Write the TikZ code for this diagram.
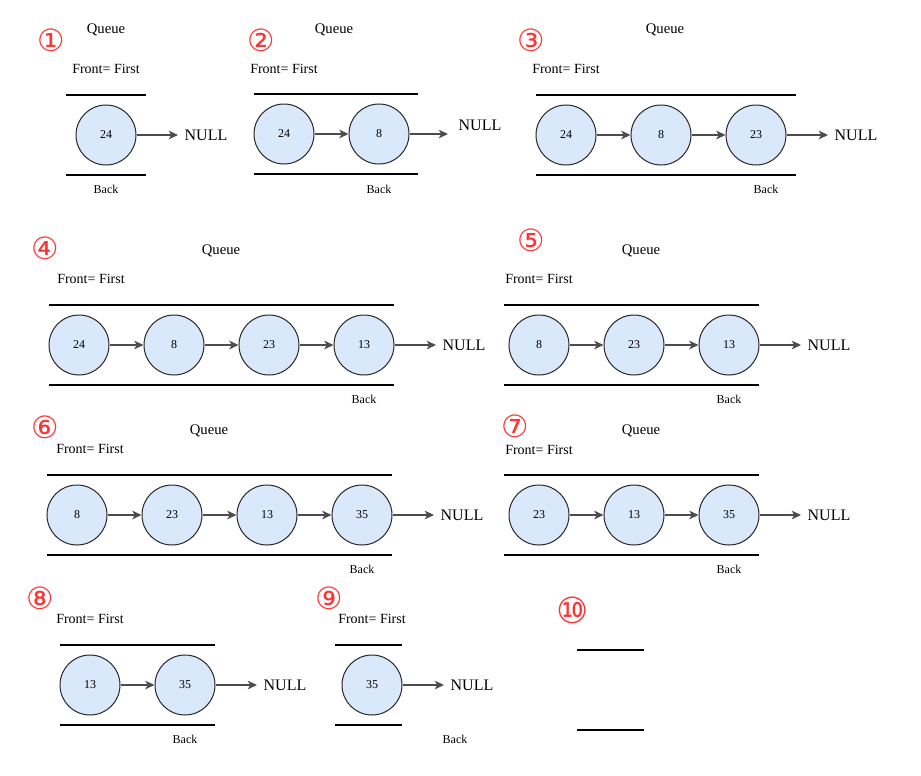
\documentclass[tikz,border=0pt]{standalone}
\usepackage{fontspec}
\setmainfont{Liberation Serif}
\newfontfamily\symfont{DejaVu Sans}
\usetikzlibrary{arrows.meta}
\definecolor{cfill}{HTML}{DAE8FC}
\definecolor{cred}{HTML}{FF3333}
\begin{document}
\begin{tikzpicture}[x=0.75pt,y=-0.75pt,
  qnode/.style={circle,draw=black!85,fill=cfill,line width=0.75pt,minimum size=45pt,inner sep=0pt,font=\fontsize{9}{10}\selectfont},
  link/.style={draw=black!70,line width=0.9pt,-{Stealth[length=7pt,width=6.5pt,inset=2pt]}},
  bar/.style={line width=1.6pt,black},
  nulltxt/.style={font=\fontsize{12}{14}\selectfont,inner sep=0pt,outer sep=5pt,anchor=west},
  qtitle/.style={font=\fontsize{11}{13}\selectfont,inner sep=0pt},
  fronttxt/.style={font=\fontsize{10.5}{12}\selectfont,inner sep=0pt},
  backtxt/.style={font=\fontsize{9}{10}\selectfont,inner sep=0pt},
  numtxt/.style={font=\symfont\fontsize{23}{24}\selectfont,text=cred,inner sep=0pt}]
\useasboundingbox (0,0) rectangle (921,775);
% ---------- panel 1 ----------
\node[numtxt] (n1) at (51,40) {①};
\node[qtitle] (q1) at (106,30) {Queue};
\node[fronttxt] (f1) at (106,69) {Front= First};
\draw[bar] (66,95) -- (146,95);
\draw[bar] (66,175) -- (146,175);
\node[qnode] (a1) at (106,135) {24};
\node[nulltxt] (z1) at (178,135) {NULL};
\node[backtxt] (b1) at (106,189) {Back};
\draw[link] (a1) -- (z1.west);
% ---------- panel 2 ----------
\node[numtxt] (n2) at (261,40) {②};
\node[qtitle] (q2) at (334,30) {Queue};
\node[fronttxt] (f2) at (284,69) {Front= First};
\draw[bar] (254,94) -- (418,94);
\draw[bar] (254,174) -- (418,174);
\node[qnode] (a2) at (284,134) {24};
\node[qnode] (c2) at (379,134) {8};
\coordinate (e2) at (448,134);
\node[nulltxt] (z2) at (452,125) {NULL};
\node[backtxt] (b2) at (379,189) {Back};
\draw[link] (a2) -- (c2);
\draw[link] (c2) -- (e2);
% ---------- panel 3 ----------
\node[numtxt] (n3) at (531,40) {③};
\node[qtitle] (q3) at (665,30) {Queue};
\node[fronttxt] (f3) at (566,69) {Front= First};
\draw[bar] (536,95) -- (796,95);
\draw[bar] (536,175) -- (796,175);
\node[qnode] (a3) at (566,135) {24};
\node[qnode] (c3) at (661,135) {8};
\node[qnode] (d3) at (756,135) {23};
\node[nulltxt] (z3) at (828,135) {NULL};
\node[backtxt] (b3) at (766,189) {Back};
\draw[link] (a3) -- (c3);
\draw[link] (c3) -- (d3);
\draw[link] (d3) -- (z3.west);
% ---------- panel 4 ----------
\node[numtxt] (n4) at (45,248) {④};
\node[qtitle] (q4) at (221,251) {Queue};
\node[fronttxt] (f4) at (91,279) {Front= First};
\draw[bar] (49,305) -- (394,305);
\draw[bar] (49,385) -- (394,385);
\node[qnode] (a4) at (79,345) {24};
\node[qnode] (c4) at (174,345) {8};
\node[qnode] (d4) at (269,345) {23};
\node[qnode] (g4) at (364,345) {13};
\node[nulltxt] (z4) at (436,345) {NULL};
\node[backtxt] (b4) at (364,399) {Back};
\draw[link] (a4) -- (c4);
\draw[link] (c4) -- (d4);
\draw[link] (d4) -- (g4);
\draw[link] (g4) -- (z4.west);
% ---------- panel 5 ----------
\node[numtxt] (n5) at (531,240) {⑤};
\node[qtitle] (q5) at (641,251) {Queue};
\node[fronttxt] (f5) at (539,279) {Front= First};
\draw[bar] (504,305) -- (759,305);
\draw[bar] (504,385) -- (759,385);
\node[qnode] (a5) at (539,345) {8};
\node[qnode] (c5) at (634,345) {23};
\node[qnode] (d5) at (729,345) {13};
\node[nulltxt] (z5) at (801,345) {NULL};
\node[backtxt] (b5) at (729,399) {Back};
\draw[link] (a5) -- (c5);
\draw[link] (c5) -- (d5);
\draw[link] (d5) -- (z5.west);
% ---------- panel 6 ----------
\node[numtxt] (n6) at (45,427) {⑥};
\node[qtitle] (q6) at (209,431) {Queue};
\node[fronttxt] (f6) at (90,449) {Front= First};
\draw[bar] (47,475) -- (392,475);
\draw[bar] (47,555) -- (392,555);
\node[qnode] (a6) at (77,515) {8};
\node[qnode] (c6) at (172,515) {23};
\node[qnode] (d6) at (267,515) {13};
\node[qnode] (g6) at (362,515) {35};
\node[nulltxt] (z6) at (434,515) {NULL};
\node[backtxt] (b6) at (362,569) {Back};
\draw[link] (a6) -- (c6);
\draw[link] (c6) -- (d6);
\draw[link] (d6) -- (g6);
\draw[link] (g6) -- (z6.west);
% ---------- panel 7 ----------
\node[numtxt] (n7) at (515,426) {⑦};
\node[qtitle] (q7) at (641,431) {Queue};
\node[fronttxt] (f7) at (539,450) {Front= First};
\draw[bar] (504,475) -- (759,475);
\draw[bar] (504,555) -- (759,555);
\node[qnode] (a7) at (539,515) {23};
\node[qnode] (c7) at (634,515) {13};
\node[qnode] (d7) at (729,515) {35};
\node[nulltxt] (z7) at (801,515) {NULL};
\node[backtxt] (b7) at (729,569) {Back};
\draw[link] (a7) -- (c7);
\draw[link] (c7) -- (d7);
\draw[link] (d7) -- (z7.west);
% ---------- panel 8 ----------
\node[numtxt] (n8) at (40,598) {⑧};
\node[fronttxt] (f8) at (90,619) {Front= First};
\draw[bar] (60,645) -- (215,645);
\draw[bar] (60,725) -- (215,725);
\node[qnode] (a8) at (90,685) {13};
\node[qnode] (c8) at (185,685) {35};
\node[nulltxt] (z8) at (257,685) {NULL};
\node[backtxt] (b8) at (185,739) {Back};
\draw[link] (a8) -- (c8);
\draw[link] (c8) -- (z8.west);
% ---------- panel 9 ----------
\node[numtxt] (n9) at (329,598) {⑨};
\node[fronttxt] (f9) at (372,619) {Front= First};
\draw[bar] (335,645) -- (402,645);
\draw[bar] (335,725) -- (402,725);
\node[qnode] (a9) at (372,685) {35};
\node[nulltxt] (z9) at (444,685) {NULL};
\node[backtxt] (b9) at (455,739) {Back};
\draw[link] (a9) -- (z9.west);
% ---------- panel 10 ----------
\node[numtxt] (n10) at (573,610) {\fontsize{27}{28}\selectfont⑩};
\draw[bar] (577,650) -- (644,650);
\draw[bar] (577,730) -- (644,730);
\end{tikzpicture}
\end{document}
